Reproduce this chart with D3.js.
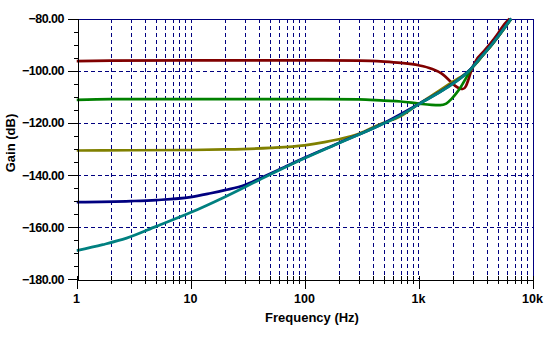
<!DOCTYPE html>
<html>
<head>
<meta charset="utf-8">
<script src="https://cdn.jsdelivr.net/npm/d3@7"></script>
<style>
  html, body { margin: 0; padding: 0; background: #fff; }
  svg text { font-family: "Liberation Sans", Arial, sans-serif; font-weight: bold; fill: #000; }
</style>
</head>
<body>
<svg id="chart" width="549" height="338"></svg>
<script>
// Gain vs frequency, one trace per configuration
const yTicks = [-180, -160, -140, -120, -100, -80];
const xTicks = [1, 10, 100, 1000, 10000];
const xTickLabels = ["1", "10", "100", "1k", "10k"];

const redFreq = [1, 2, 10, 100, 300, 500, 700, 1000, 1300, 1600, 1900, 2100, 2300, 2450, 2600, 2750, 2900, 3200, 3700, 4300, 5000, 5700, 6300];
const redGain = [-96.3, -96.1, -96.0, -96.0, -96.1, -96.5, -97.0, -97.9, -99.2, -101.1, -104.0, -105.8, -106.8, -107.0, -106.0, -103.2, -100.0, -96.0, -92.8, -89.4, -85.6, -82.0, -80.0];

const greenFreq = [1, 2, 10, 100, 300, 500, 700, 1000, 1300, 1550, 1750, 1950, 2150, 2350, 2550, 2750, 2950, 3300, 3700, 4300, 5000, 5800, 6500];
const greenGain = [-111.2, -110.9, -110.9, -110.9, -111.0, -111.5, -111.8, -112.6, -113.1, -113.2, -112.6, -110.8, -108.6, -106.2, -103.6, -101.0, -98.8, -96.6, -93.8, -90.6, -86.9, -83.1, -80.1];

const oliveFreq = [1, 3, 10, 20, 50, 100, 150, 200, 300, 450, 700, 1000, 1500, 2000, 2800, 3500, 4300, 5000, 5800, 6500];
const oliveGain = [-130.6, -130.5, -130.4, -130.2, -129.6, -128.6, -127.4, -126.3, -124.2, -120.7, -117.4, -112.8, -107.8, -104.2, -99.9, -95.1, -90.6, -86.9, -83.1, -80.1];

const navyFreq = [1, 3, 5, 10, 15, 20, 30, 40, 60, 100, 200, 460, 1000, 1750, 2830, 3500, 4300, 5000, 5800, 6500];
const navyGain = [-150.4, -150.0, -149.6, -148.5, -147.0, -145.8, -143.8, -141.4, -137.9, -133.4, -127.7, -120.8, -112.8, -106.6, -99.6, -94.9, -90.4, -86.7, -82.9, -79.9];

const tealFreq = [1, 1.7, 2.75, 5, 10, 20, 40, 100, 200, 460, 665, 1000, 1750, 2830, 3500, 4300, 5000, 5800, 6500];
const tealGain = [-169.0, -166.7, -164.2, -159.7, -154.4, -148.4, -141.9, -133.6, -127.8, -120.9, -117.6, -112.9, -106.7, -99.7, -95.0, -90.5, -86.8, -83.0, -80.0];

const traces = [
  { freq: redFreq, gain: redGain, color: "#800000" },
  { freq: greenFreq, gain: greenGain, color: "#008000" },
  { freq: oliveFreq, gain: oliveGain, color: "#808000" },
  { freq: navyFreq, gain: navyGain, color: "#000080" },
  { freq: tealFreq, gain: tealGain, color: "#008080" }
];

const svg = d3.select("#chart");
const plotLeft = 76.5, plotRight = 532.5, plotTop = 18.6, plotBottom = 279.3;

const x = d3.scaleLog().domain([1, 10000]).range([plotLeft, plotRight]);
const y = d3.scaleLinear().domain([-180, -80]).range([plotBottom, plotTop]);

// minor frequencies 2..9 in every decade
const minorFreq = [];
for (let d = 1; d < 10000; d *= 10) for (let k = 2; k <= 9; k++) minorFreq.push(k * d);

const grid = svg.append("g").attr("stroke", "#000080").attr("stroke-width", 1)
  .attr("stroke-dasharray", "4,3").attr("shape-rendering", "crispEdges");

// vertical dashed grid
grid.selectAll("line.v").data(minorFreq.concat([10, 100, 1000])).join("line")
  .attr("x1", d => Math.round(x(d)) + 0.5).attr("x2", d => Math.round(x(d)) + 0.5)
  .attr("y1", plotTop).attr("y2", plotBottom);

// horizontal dashed grid
grid.selectAll("line.h").data([-160, -140, -120, -100]).join("line")
  .attr("x1", plotLeft).attr("x2", plotRight)
  .attr("y1", d => Math.round(y(d)) + 0.5).attr("y2", d => Math.round(y(d)) + 0.5);

// frame: top and right in navy
svg.append("path")
  .attr("d", `M${plotLeft},${Math.round(plotTop) + 0.5}H${Math.round(plotRight) + 0.5}V${plotBottom}`)
  .attr("fill", "none").attr("stroke", "#000080").attr("stroke-width", 1)
  .attr("shape-rendering", "crispEdges");

// traces
svg.append("clipPath").attr("id", "plotclip").append("rect")
  .attr("x", plotLeft).attr("y", plotTop - 2).attr("width", plotRight - plotLeft).attr("height", plotBottom - plotTop + 2);

const line = d3.line().x(d => x(d[0])).y(d => y(d[1])).curve(d3.curveMonotoneX);
const traceG = svg.append("g").attr("clip-path", "url(#plotclip)");
traces.forEach(t => {
  traceG.append("path")
    .datum(t.freq.map((f, i) => [f, t.gain[i]]))
    .attr("d", line)
    .attr("fill", "none")
    .attr("stroke", t.color)
    .attr("stroke-width", 2.7)
    .attr("stroke-linejoin", "round");
});

// Y axis
const yAxis = svg.append("g").attr("transform", `translate(${Math.round(plotLeft) + 0.5},0)`);
yAxis.call(d3.axisLeft(y).tickValues(d3.range(-180, -79, 5)).tickSize(0).tickFormat(""));
yAxis.select(".domain").attr("stroke", "#000").attr("shape-rendering", "crispEdges");
yAxis.selectAll(".tick line")
  .attr("x2", d => (d % 20 === 0 ? -10 : -4))
  .attr("stroke", "#000").attr("shape-rendering", "crispEdges");
svg.append("g").selectAll("text").data(yTicks).join("text")
  .attr("x", 64).attr("y", d => y(d)).attr("dy", "0.36em")
  .attr("text-anchor", "end").attr("font-size", 12.5).attr("letter-spacing", "-0.5px")
  .text(d => d3.format(".2f")(d));

// X axis
const xAxis = svg.append("g").attr("transform", `translate(0,${Math.round(plotBottom) + 0.5})`);
xAxis.call(d3.axisBottom(x).tickValues(minorFreq.concat(xTicks)).tickSize(0).tickFormat(""));
xAxis.select(".domain").attr("stroke", "#000").attr("shape-rendering", "crispEdges");
xAxis.selectAll(".tick line")
  .attr("y1", -4)
  .attr("y2", d => (xTicks.includes(d) ? 9 : 4))
  .attr("stroke", "#000").attr("shape-rendering", "crispEdges");
svg.append("g").selectAll("text").data(xTicks).join("text")
  .attr("x", d => x(d)).attr("y", 302.5)
  .attr("text-anchor", "middle").attr("font-size", 12.5)
  .text((d, i) => xTickLabels[i]);

// axis titles
svg.append("text").attr("x", 312).attr("y", 322)
  .attr("text-anchor", "middle").attr("font-size", 13).text("Frequency (Hz)");
svg.append("text").attr("transform", "translate(14.5,143) rotate(-90)")
  .attr("text-anchor", "middle").attr("font-size", 13).text("Gain (dB)");
</script>
</body>
</html>
